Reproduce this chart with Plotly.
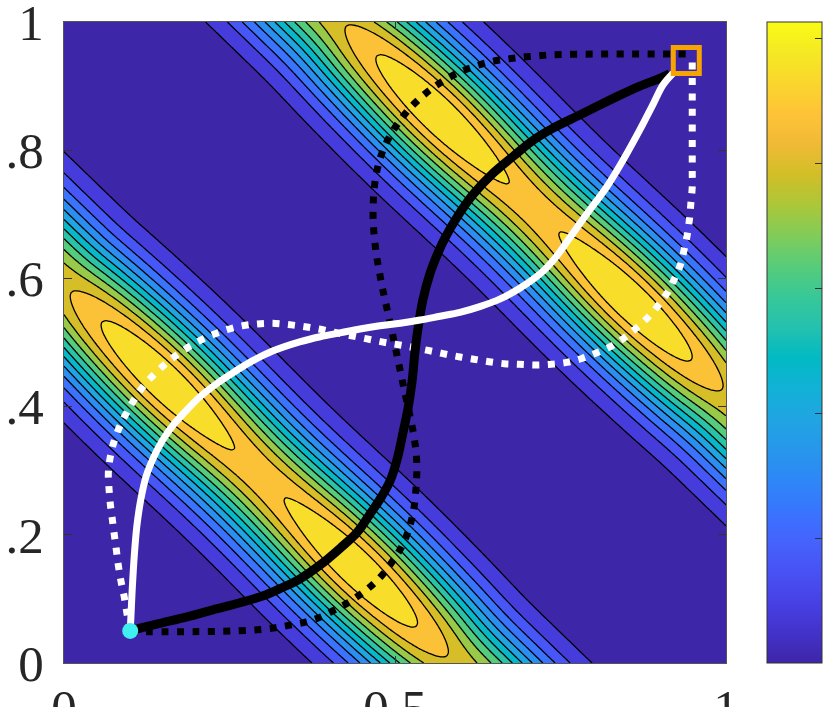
import numpy as np
import plotly.graph_objects as go

# background field: two diagonal ridges (x + y = const) with two bright spots each
band_centres = [0.59, 1.42]       # x + y at the middle of each band
band_scales = [0.135, 0.134]      # across-band scale
spot_offset = 0.29                # x - y of the bright spots
n_levels = 12                     # contour lines

# paths
black_solid_x = [0.10, 0.110, 0.145, 0.186, 0.225, 0.266, 0.301, 0.326, 0.356, 0.387, 0.417, 0.443,
                 0.462, 0.480, 0.493, 0.503, 0.512, 0.520, 0.526, 0.530, 0.535, 0.542, 0.553, 0.565,
                 0.575, 0.594, 0.618, 0.648, 0.678, 0.708, 0.738, 0.779, 0.810, 0.840, 0.870, 0.900, 0.915]
black_solid_y = [0.05, 0.053, 0.062, 0.072, 0.083, 0.094, 0.105, 0.116, 0.131, 0.153, 0.179, 0.204,
                 0.232, 0.260, 0.285, 0.317, 0.359, 0.399, 0.441, 0.484, 0.524, 0.566, 0.608, 0.640,
                 0.662, 0.696, 0.731, 0.764, 0.790, 0.815, 0.834, 0.855, 0.871, 0.886, 0.900, 0.912, 0.919]

white_solid_x = [0.10, 0.101, 0.103, 0.106, 0.110, 0.116, 0.124, 0.135, 0.148, 0.164, 0.183, 0.205,
                 0.231, 0.257, 0.286, 0.316, 0.356, 0.387, 0.417, 0.447, 0.477, 0.508, 0.538, 0.568,
                 0.598, 0.628, 0.659, 0.689, 0.719, 0.742, 0.763, 0.790, 0.820, 0.847, 0.870, 0.890,
                 0.905, 0.920]
white_solid_y = [0.05, 0.070, 0.114, 0.165, 0.213, 0.255, 0.291, 0.320, 0.346, 0.370, 0.392, 0.415,
                 0.436, 0.454, 0.472, 0.487, 0.501, 0.509, 0.515, 0.521, 0.526, 0.530, 0.535, 0.541,
                 0.547, 0.556, 0.568, 0.585, 0.607, 0.632, 0.662, 0.701, 0.743, 0.789, 0.832, 0.872,
                 0.902, 0.920]

black_dot_x = [0.10, 0.205, 0.281, 0.319, 0.341, 0.366, 0.388, 0.409, 0.429, 0.449, 0.467, 0.483,
               0.497, 0.510, 0.519, 0.526, 0.530, 0.532, 0.533, 0.532, 0.529, 0.525, 0.520, 0.515,
               0.510, 0.505, 0.500, 0.495, 0.490, 0.485, 0.480, 0.476, 0.472, 0.469, 0.467, 0.467,
               0.468, 0.471, 0.476, 0.484, 0.495, 0.508, 0.523, 0.540, 0.558, 0.578, 0.598, 0.621,
               0.644, 0.668, 0.692, 0.714, 0.739, 0.810, 0.940]
black_dot_y = [0.049, 0.049, 0.051, 0.055, 0.059, 0.064, 0.072, 0.083, 0.094, 0.108, 0.123, 0.140,
               0.160, 0.181, 0.203, 0.228, 0.252, 0.278, 0.301, 0.328, 0.351, 0.374, 0.398, 0.421,
               0.446, 0.470, 0.495, 0.519, 0.543, 0.566, 0.590, 0.613, 0.636, 0.662, 0.690, 0.712,
               0.735, 0.758, 0.782, 0.805, 0.827, 0.847, 0.866, 0.883, 0.898, 0.911, 0.922, 0.931,
               0.938, 0.942, 0.945, 0.947, 0.949, 0.950, 0.950]

white_dot_x = [0.10, 0.095, 0.091, 0.086, 0.082, 0.079, 0.076, 0.073, 0.070, 0.068, 0.067, 0.070,
               0.076, 0.085, 0.097, 0.109, 0.123, 0.140, 0.158, 0.178, 0.200, 0.222, 0.246, 0.269,
               0.292, 0.314, 0.338, 0.361, 0.385, 0.408, 0.432, 0.456, 0.480, 0.502, 0.524, 0.548,
               0.571, 0.595, 0.619, 0.642, 0.665, 0.688, 0.711, 0.736, 0.760, 0.782, 0.805, 0.826,
               0.846, 0.864, 0.881, 0.897, 0.911, 0.922, 0.931, 0.937, 0.942, 0.945, 0.947, 0.949,
               0.949, 0.949, 0.949, 0.949, 0.949, 0.949, 0.949, 0.949]
white_dot_y = [0.05, 0.078, 0.103, 0.128, 0.153, 0.177, 0.200, 0.224, 0.248, 0.272, 0.297, 0.322,
               0.347, 0.371, 0.395, 0.416, 0.436, 0.454, 0.471, 0.486, 0.500, 0.511, 0.520, 0.526,
               0.529, 0.530, 0.528, 0.525, 0.521, 0.516, 0.511, 0.506, 0.501, 0.497, 0.493, 0.488,
               0.483, 0.478, 0.474, 0.470, 0.467, 0.466, 0.465, 0.466, 0.469, 0.475, 0.484, 0.494,
               0.507, 0.522, 0.538, 0.557, 0.577, 0.599, 0.621, 0.646, 0.671, 0.694, 0.718, 0.743,
               0.766, 0.791, 0.816, 0.841, 0.866, 0.889, 0.914, 0.940]

start_pt = (0.10, 0.05)
end_pt = (0.94, 0.94)

y_ticks = [0, 0.2, 0.4, 0.6, 0.8, 1]
y_labels = ['0', '.2', '.4', '.6', '.8', '1']
x_ticks = [0, 0.5, 1]
x_labels = ['0', '0.5', '1']
cbar_ticks = [0.2, 0.4, 0.6, 0.8, 1.0]

# parula (every third entry of the 64-colour map)
parula = [
    (0.2422, 0.1504, 0.6603), (0.2647, 0.1978, 0.7952), (0.2783, 0.2559, 0.8991),
    (0.2810, 0.3228, 0.9579), (0.2699, 0.3892, 0.9906), (0.2206, 0.4603, 0.9973),
    (0.1786, 0.5289, 0.9682), (0.1540, 0.5902, 0.9218), (0.1248, 0.6459, 0.8883),
    (0.0689, 0.6948, 0.8394), (0.0067, 0.7312, 0.7660), (0.1408, 0.7584, 0.6842),
    (0.2161, 0.7843, 0.5923), (0.3406, 0.8008, 0.4789), (0.5044, 0.7993, 0.3480),
    (0.6720, 0.7793, 0.2227), (0.8203, 0.7498, 0.1535), (0.9393, 0.7288, 0.2100),
    (0.9970, 0.7659, 0.2199), (0.9786, 0.8386, 0.1766), (0.9597, 0.9135, 0.1423),
    (0.9769, 0.9839, 0.0805)]
pos = np.linspace(0, 1, len(parula))
pal = np.array(parula)


def parula_at(t):
    rgb = [np.interp(t, pos, pal[:, k]) for k in range(3)]
    return 'rgb(%d,%d,%d)' % tuple(int(round(255 * c)) for c in rgb)


parula_cs = [[p, parula_at(p)] for p in pos]
# band j (between level j and j+1) gets the colour of its lower level, as in contourf
fill_cs = [[j / n_levels, parula_at(j / (n_levels + 1))] for j in range(n_levels + 1)]

g = np.linspace(0, 1, 261)
X, Y = np.meshgrid(g, g)
U = X + Y
S = X - Y
# along-band profile: two bright spots, shallow dip between them, softer ends
bumps = np.where(np.abs(S) < 2 * spot_offset,
                 0.935 - 0.045 * np.cos(np.pi * S / spot_offset), 0.89)
along = bumps * (1 - 0.1 * (1 - np.exp(-(np.abs(S) / 0.56) ** 12)))
Z = np.zeros_like(X)
for c, a in zip(band_centres, band_scales):
    Z += np.exp(-((U - c) / a) ** 2) * along
Z = Z / Z.max()

step = 1.0 / (n_levels + 1)

fig = go.Figure()
fig.add_trace(go.Contour(
    x=g, y=g, z=Z,
    autocontour=False,
    contours=dict(start=step, end=n_levels * step, size=step, coloring='fill'),
    colorscale=fill_cs,
    line=dict(color='black', width=1.3),
    showscale=False,
    hoverinfo='skip'
))

dash_pat = '7px,8.5px'
smooth = dict(shape='spline', smoothing=1.0)
fig.add_trace(go.Scatter(x=black_dot_x, y=black_dot_y, mode='lines',
                         line=dict(color='black', width=7, dash=dash_pat, **smooth)))
fig.add_trace(go.Scatter(x=white_dot_x, y=white_dot_y, mode='lines',
                         line=dict(color='white', width=7, dash=dash_pat, **smooth)))
fig.add_trace(go.Scatter(x=black_solid_x, y=black_solid_y, mode='lines',
                         line=dict(color='black', width=9, **smooth)))
fig.add_trace(go.Scatter(x=white_solid_x, y=white_solid_y, mode='lines',
                         line=dict(color='white', width=7, **smooth)))
fig.add_trace(go.Scatter(x=[start_pt[0]], y=[start_pt[1]], mode='markers',
                         marker=dict(symbol='circle', size=16, color='#40f0f0')))
fig.add_trace(go.Scatter(x=[end_pt[0]], y=[end_pt[1]], mode='markers',
                         marker=dict(symbol='square-open', size=26, color='#f7a400',
                                     line=dict(color='#f7a400', width=5))))

# continuous colour bar, as in the original
fig.add_trace(go.Scatter(
    x=[None], y=[None], mode='markers',
    marker=dict(color=[0], cmin=0, cmax=1.026, colorscale=parula_cs, showscale=True,
                colorbar=dict(thickness=55, thicknessmode='pixels', len=1, lenmode='fraction',
                              x=(767 - 64) / 662, xanchor='left', xpad=0,
                              y=0.5, yanchor='middle', ypad=0,
                              outlinewidth=1, outlinecolor='#333333',
                              tickmode='array', tickvals=cbar_ticks, ticks='inside',
                              ticklen=7, tickcolor='#333333', showticklabels=False)),
    hoverinfo='skip'
))

tick_font = dict(family='Liberation Serif, DejaVu Serif, serif', size=51, color='#262626')
fig.update_xaxes(range=[0, 1], tickmode='array', tickvals=x_ticks, ticktext=x_labels,
                 ticks='inside', ticklen=7, tickcolor='#333333', showline=True, linecolor='#555555',
                 linewidth=1, mirror='ticks', showgrid=False, zeroline=False, automargin=False,
                 ticklabeloverflow='allow', tickfont=tick_font, ticklabelstandoff=0)
fig.update_yaxes(range=[0, 1], tickmode='array', tickvals=y_ticks, ticktext=y_labels,
                 ticks='inside', ticklen=8, tickcolor='#333333', showline=True, linecolor='#555555',
                 linewidth=1, mirror='ticks', showgrid=False, zeroline=False, automargin=False,
                 ticklabeloverflow='allow', tickfont=tick_font, ticklabelstandoff=9)

fig.update_layout(
    width=834, height=707,
    margin=dict(l=64, r=108, t=22, b=44, autoexpand=False),
    paper_bgcolor='white',
    plot_bgcolor='white',
    showlegend=False
)

# drop the page's default body margin so the 834x707 figure fills the window exactly
fig.write_html("out.html", config={'displayModeBar': False},
               post_script="document.body.style.margin='0';")
